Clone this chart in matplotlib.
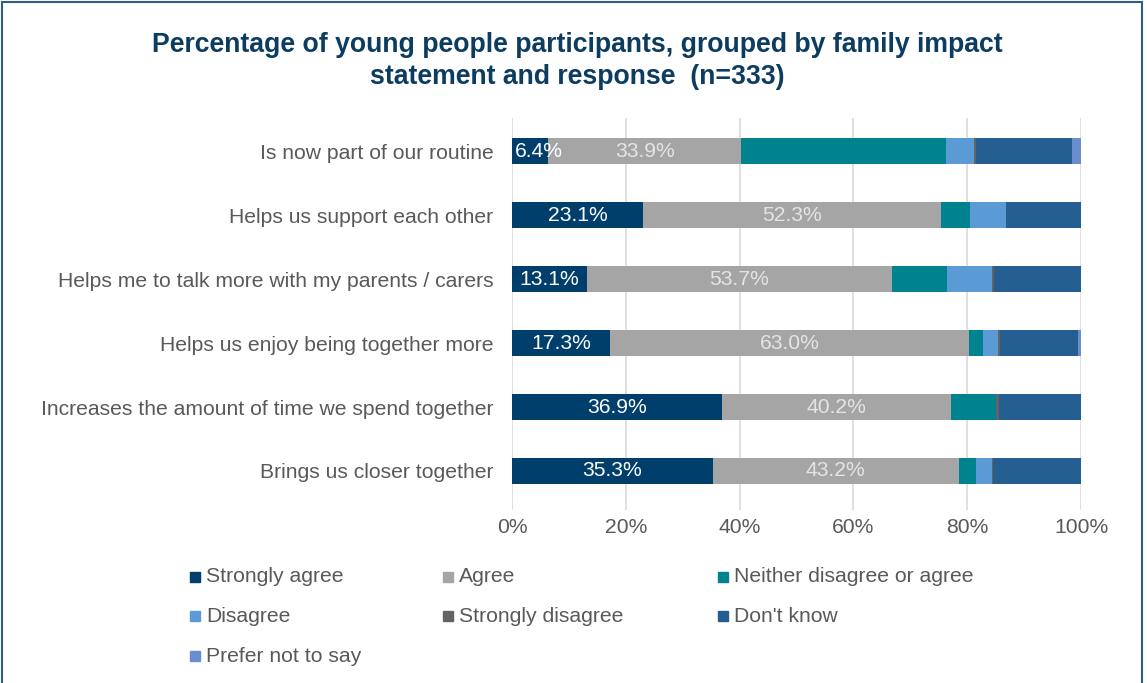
import matplotlib.pyplot as plt
import matplotlib.patches as mpatches
import numpy as np

plt.rcParams['font.family'] = ['Liberation Sans', 'DejaVu Sans']

statements = [
    "Brings us closer together",
    "Increases the amount of time we spend together",
    "Helps us enjoy being together more",
    "Helps me to talk more with my parents / carers",
    "Helps us support each other",
    "Is now part of our routine",
]
responses = ["Strongly agree", "Agree", "Neither disagree or agree", "Disagree",
             "Strongly disagree", "Don't know", "Prefer not to say"]
colors = ["#003f6b", "#a5a5a5", "#00838f", "#5b9bd5", "#636363", "#255e91", "#698ed0"]

# percentages per response, rows in the same order as statements
strongly_agree = [35.3, 36.9, 17.3, 13.1, 23.1, 6.4]
agree = [43.2, 40.2, 63.0, 53.7, 52.3, 33.9]
neither = [3.0, 7.9, 2.4, 9.6, 5.1, 36.0]
disagree = [2.8, 0.0, 2.8, 8.0, 6.4, 4.9]
strongly_disagree = [0.3, 0.6, 0.3, 0.3, 0.0, 0.3]
dont_know = [15.4, 14.4, 13.6, 15.3, 13.1, 16.9]
prefer_not = [0.0, 0.0, 0.6, 0.0, 0.0, 1.6]

series = [strongly_agree, agree, neither, disagree, strongly_disagree, dont_know, prefer_not]
label_colors = {0: "white", 1: "#e4e4e4"}
FS = 15.2

fig = plt.figure(figsize=(11.47, 6.83), dpi=100)
ax = fig.add_axes([512 / 1147, 1 - 510 / 683, 569 / 1147, 392 / 683])

y = np.arange(len(statements))
left = np.zeros(len(statements))
for i, (vals, col) in enumerate(zip(series, colors)):
    vals = np.array(vals) / 100
    ax.barh(y, vals, left=left, height=0.4, color=col, zorder=2)
    if i in label_colors:
        for yy, l, v in zip(y, left, vals):
            # keep narrow labels inside the plot area
            xpos = max(l + v / 2, 0.047)
            ax.text(xpos, yy, f"{v * 100:.1f}%", ha="center", va="center",
                    fontsize=FS, color=label_colors[i], zorder=3)
    left += vals

ax.set_xlim(0, 1)
ax.set_ylim(-0.61, 5.52)
ax.set_xticks(np.arange(0, 1.01, 0.2))
ax.set_xticklabels([f"{int(t * 100)}%" for t in np.arange(0, 1.01, 0.2)])
ax.set_yticks(y)
ax.set_yticklabels(statements)
ax.tick_params(axis="both", length=0, labelsize=FS, labelcolor="#595959")
ax.tick_params(axis="y", pad=13.5)
ax.tick_params(axis="x", pad=6)
ax.xaxis.grid(True, color="#d9d9d9", linewidth=1.2, zorder=0)
for s in ax.spines.values():
    s.set_visible(False)

fig.text(577 / 1147, 1 - 61 / 683,
         "Percentage of young people participants, grouped by family impact\nstatement and response  (n=333)",
         ha="center", va="center", fontsize=19.2, fontweight="bold", color="#0d3c61",
         linespacing=1.3)

# legend laid out in three columns
col_x = [190, 443, 718]
row_y = [577, 616, 656]
for k, (name, col) in enumerate(zip(responses, colors)):
    cx = col_x[k % 3]
    cy = row_y[k // 3]
    fig.patches.append(mpatches.Rectangle((cx / 1147, 1 - (cy + 5) / 683), 10 / 1147, 10 / 683,
                                          transform=fig.transFigure, color=col))
    fig.text((cx + 16) / 1147, 1 - cy / 683, name, ha="left", va="center",
             fontsize=FS, color="#595959")

# outer frame
fig.patches.append(mpatches.Rectangle((1.5 / 1147, -0.05), 1140 / 1147, 1.05 - 2 / 683,
                                      transform=fig.transFigure, fill=False,
                                      edgecolor="#2e5c84", linewidth=1.5))

fig.savefig("out.png", dpi=100)
